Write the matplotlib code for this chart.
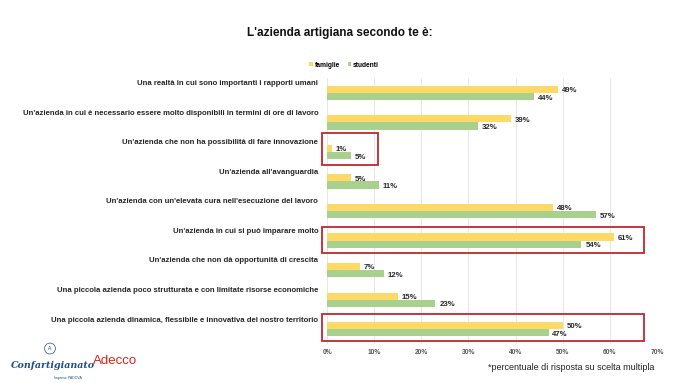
import numpy as np
import matplotlib
matplotlib.use("Agg")
import matplotlib.pyplot as plt
from matplotlib.patches import Rectangle, Ellipse

categories = [
    "Una realtà in cui sono importanti i rapporti umani",
    "Un'azienda in cui è necessario essere molto disponibili in termini di ore di lavoro",
    "Un'azienda che non ha possibilità di fare innovazione",
    "Un'azienda all'avanguardia",
    "Un'azienda con un'elevata cura nell'esecuzione del lavoro",
    "Un'azienda in cui si può imparare molto",
    "Un'azienda che non dà opportunità di crescita",
    "Una piccola azienda poco strutturata e con limitate risorse economiche",
    "Una piccola azienda dinamica, flessibile e innovativa del nostro territorio",
]
famiglie = [49, 39, 1, 5, 48, 61, 7, 15, 50]
studenti = [44, 32, 5, 11, 57, 54, 12, 23, 47]
ticks = [0, 10, 20, 30, 40, 50, 60, 70]
highlight = [2, 5, 8]

YEL = "#FFD966"
GRN = "#A9D18E"
RED = "#C0272D"
TXT = "#262626"

plt.rcParams["font.family"] = ["Liberation Sans", "DejaVu Sans"]

fig = plt.figure(figsize=(6.8, 3.83), dpi=100)
ax = fig.add_axes([0.481, 0.102, 0.485, 0.694])

y = np.arange(len(categories))
h = 0.24
ax.barh(y - h / 2, famiglie, height=h, color=YEL, label="famiglie", zorder=2)
ax.barh(y + h / 2, studenti, height=h, color=GRN, label="studenti", zorder=2)

for i in range(len(categories)):
    ax.text(famiglie[i] + 0.8, y[i] - h / 2 + 0.04, f"{famiglie[i]}%", va="center", ha="left",
            fontsize=5.6, fontweight="bold", color=TXT)
    ax.text(studenti[i] + 0.8, y[i] + h / 2 + 0.06, f"{studenti[i]}%", va="center", ha="left",
            fontsize=5.6, fontweight="bold", color=TXT)
    ax.text(-1.9, y[i] - 0.31, categories[i], va="center", ha="right",
            fontsize=5.6, fontweight="bold", color=TXT)

# red highlight boxes
boxes = {2: (-1.06, 10.8, -0.64, 0.44), 5: (-1.06, 67.2, -0.46, 0.42), 8: (-1.06, 67.2, -0.51, 0.41)}
for i in highlight:
    x0, x1, t, b = boxes[i]
    ax.add_patch(Rectangle((x0, i + t), x1 - x0, b - t, fill=False, ec=RED, lw=1.3,
                           clip_on=False, zorder=3))

ax.set_xlim(0, 70)
ax.set_ylim(len(categories) - 0.5, -0.5)
ax.set_xticks(ticks)
ax.set_xticklabels([f"{t}%" for t in ticks], fontsize=4.8, fontweight="bold", color="#595959")
ax.set_yticks([])
ax.tick_params(axis="x", length=0, pad=4)
ax.grid(axis="x", color="#E3E3E3", lw=0.6, zorder=0)
for s in ax.spines.values():
    s.set_visible(False)

fig.text(0.5, 0.913, "L'azienda artigiana secondo te è:", ha="center", va="center",
         fontsize=8.5, fontweight="bold", color="#111111")
fig.legend(loc="center", bbox_to_anchor=(0.506, 0.83), ncol=2, frameon=False,
           handlelength=0.5, handleheight=0.5, columnspacing=1.2,
           handletextpad=0.3, prop={"weight": "bold", "size": 4.8})

fig.text(0.963, 0.04, "*percentuale di risposta su scelta multipla", ha="right", va="center",
         fontsize=6.5, color="#222222")

# logos as text
fig.text(0.016, 0.045, "Confartigianato", ha="left", va="center", fontsize=6.8,
         style="italic", fontweight="bold", family="DejaVu Serif", color="#1F4E8C")
fig.patches.append(Ellipse((0.0735, 0.09), 0.016, 0.016 * 6.8 / 3.83, transform=fig.transFigure,
                           fill=False, ec="#1F4E8C", lw=0.5))
fig.text(0.0735, 0.09, "A", ha="center", va="center", fontsize=3.5, color="#1F4E8C")
fig.text(0.10, 0.012, "Imprese PADOVA", ha="center", va="center", fontsize=2.5, color="#1F4E8C")
fig.text(0.136, 0.057, "Adecco", ha="left", va="center", fontsize=9.5, color="#E2231A")

fig.savefig("out.png", dpi=100)
